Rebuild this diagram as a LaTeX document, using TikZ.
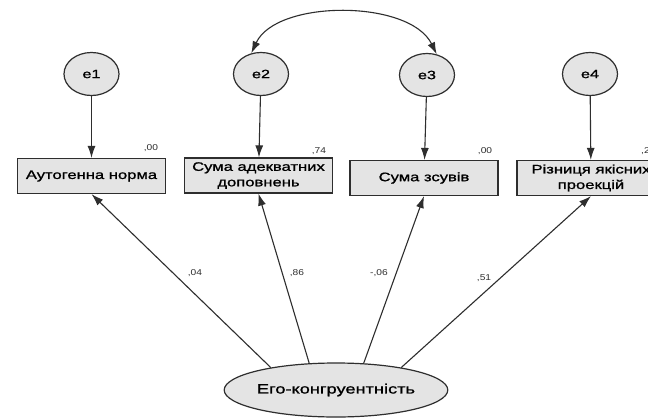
\documentclass[tikz,border=0pt]{standalone}
\usepackage{fontspec}
\newfontfamily\semfont[FakeStretch=1.35,FakeBold=1.2]{Liberation Sans}
\newfontfamily\coeffont[FakeStretch=1.2]{Liberation Sans}
\usetikzlibrary{arrows.meta,shapes.geometric}
\definecolor{semfill}{HTML}{E4E4E4}
\definecolor{semline}{HTML}{2E2E2E}
\tikzset{
	errvar/.style={
			ellipse, draw=semline, fill=semfill, line width=1.2pt,
			minimum width=55pt, minimum height=43pt, inner sep=0pt,
			font=\semfont\fontsize{12}{14}\selectfont
		},
	obsvar/.style={
			rectangle, draw=semline, fill=semfill, line width=1.2pt,
			minimum width=148pt, minimum height=35pt, inner sep=1pt,
			align=center, font=\semfont\fontsize{12.3}{15.5}\selectfont
		},
	latvar/.style={
			ellipse, draw=semline, fill=semfill, line width=1.2pt,
			minimum width=186pt, minimum height=54pt, inner sep=0pt,
			font=\semfont\fontsize{13.5}{15}\selectfont
		},
	path/.style={
			draw=semline, line width=1.1pt, -{Latex[length=12pt,width=8pt]}
		},
	coef/.style={
			text=semline, inner sep=0pt, font=\coeffont\fontsize{8.5}{10}\selectfont
		}
}

\begin{document}
\begin{tikzpicture}[x=1pt, y=-1pt]
			\clip (0, 0) rectangle (648, 418);
			\fill[white] (0, 0) rectangle (648, 418);

			% errors
			\node[errvar] (e1) at (91.5, 74) {e1};
			\node[errvar] (e2) at (261, 74) {e2};
			\node[errvar] (e3) at (427, 75) {e3};
			\node[errvar] (e4) at (590, 74) {e4};

			% observed
			\node[obsvar] (norm) at (91.5, 176) {Аутогенна норма};
			\node[obsvar] (dopov) at (258.5, 175.5) {Сума адекватних\\доповнень};
			\node[obsvar] (zsuv) at (424, 178) {Сума зсувів};
			\node[obsvar] (proj) at (591, 178) {Різниця якісних\\проекцій};

			% latent
			\node[latvar] (ego) at (336, 390) {Его-конгруентність};

			\draw[path] (e1) -- (norm);
			\draw[path] (e2) -- (dopov);
			\draw[path] (e3) -- (zsuv);
			\draw[path] (e4) -- (proj);

			\draw[draw=semline, line width=1.1pt, {Latex[length=12pt,width=8pt]}-{Latex[length=12pt,width=8pt]}]
				(e2.115) .. controls +(25, -54) and +(-27, -55) .. (e3.65);

			\draw[path] (ego.161) -- (norm.south);
			\draw[path] (ego.135) -- (dopov.south);
			\draw[path] (ego.44) -- (zsuv.south);
			\draw[path] (ego.19) -- (proj.south);

			% path coefficients
			\node[coef] (c1) at (195, 273) {,04};
			\node[coef] (c2) at (297, 273) {,86};
			\node[coef] (c3) at (379, 273) {-,06};
			\node[coef] (c4) at (484, 278) {,51};

			% squared multiple correlations
			\node[coef] (r1) at (151, 148) {,00};
			\node[coef] (r2) at (319, 151) {,74};
			\node[coef] (r3) at (485, 151) {,00};
			\node[coef, anchor=west] (r4) at (641, 151) {,2};
		\end{tikzpicture}
\end{document}
